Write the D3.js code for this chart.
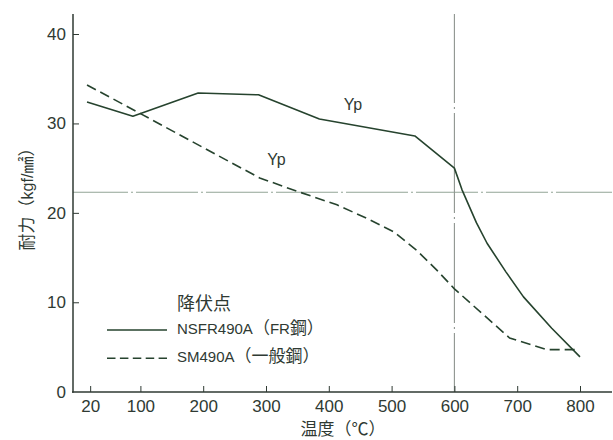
<!DOCTYPE html>
<html>
<head>
<meta charset="utf-8">
<script src="https://cdn.jsdelivr.net/npm/d3@7"></script>
<style>
  html, body { margin: 0; padding: 0; background: #fff; }
  svg { display: block; }
</style>
</head>
<body>
<svg id="chart" width="613" height="440"></svg>
<script>
// Yield point (kgf/mm²) versus temperature (°C) for two structural steels
const frTemps  = [15, 88, 192, 288, 385, 537, 600, 612, 635, 652, 682, 710, 755, 800];
const frYield  = [32.4, 30.8, 33.4, 33.2, 30.5, 28.6, 25.0, 22.6, 18.9, 16.6, 13.4, 10.6, 7.1, 3.9];
const smTemps  = [15, 100, 200, 290, 350, 413, 460, 503, 540, 572, 600, 688, 747, 795];
const smYield  = [34.3, 31.1, 27.3, 23.9, 22.4, 20.9, 19.4, 17.9, 15.8, 13.6, 11.5, 6.0, 4.7, 4.7];

const xTicks = [20, 100, 200, 300, 400, 500, 600, 700, 800];
const yTicks = [0, 10, 20, 30, 40];

// Reference levels: 600 °C and the room-temperature design strength
const refTemp  = 600;
const refYield = 22.3;

const legendTitle = "降伏点";
const seriesNames = ["NSFR490A（FR鋼）", "SM490A（一般鋼）"];
const curveLabelText = ["Yp", "Yp"];
const curveLabelTemp = [424, 302];
const curveLabelYield = [31.5, 25.4];

const xTitle = "温度（℃）";
const yTitle = "耐力（kgf/㎟）";

// ---------------------------------------------------------------
const INK = "#2f3a33";
const CURVE = "#26432e";
const LATIN = "'Liberation Sans', Arial, sans-serif";
const CJK = "'Noto Sans CJK JP', 'Noto Sans CJK SC', sans-serif";

const svg = d3.select("#chart");

const axisX0 = 73, axisX1 = 612, axisY = 392, axisTop = 14;

const x = d3.scaleLinear().domain([0, 800]).range([77.6, 580]);
const y = d3.scaleLinear().domain([0, 40]).range([391.7, 34]);

// mixed Latin / CJK text: CJK runs get the CJK face at a larger size
const cjkRe = /[\u2100-\u214f\u3000-\u30ff\u3300-\u33ff\u4e00-\u9fff\uff00-\uffef]/;
function runs(str) {
  const out = [];
  for (const ch of str) {
    const c = cjkRe.test(ch);
    if (out.length && out[out.length - 1].cjk === c) out[out.length - 1].s += ch;
    else out.push({ s: ch, cjk: c });
  }
  return out;
}
function mixedText(sel, str, latinSize, cjkSize) {
  sel.selectAll("tspan").data(runs(str)).join("tspan")
    .attr("font-family", d => d.cjk ? CJK : LATIN)
    .attr("font-size", d => d.cjk ? cjkSize : latinSize)
    .text(d => d.s);
  return sel;
}

// reference lines (dash-dot)
svg.append("line")
  .attr("x1", axisX0).attr("x2", axisX1)
  .attr("y1", y(refYield)).attr("y2", y(refYield))
  .attr("stroke", "#93a596").attr("stroke-width", 1.1)
  .attr("stroke-dasharray", "62,3,2,3").attr("stroke-dashoffset", 7);

svg.append("line")
  .attr("x1", x(refTemp)).attr("x2", x(refTemp))
  .attr("y1", axisTop).attr("y2", axisY)
  .attr("stroke", "#8e948f").attr("stroke-width", 1.1)
  .attr("stroke-dasharray", "100,4,2,4").attr("stroke-dashoffset", 11);

// axes
const gx = svg.append("g").attr("transform", `translate(0,${axisY})`)
  .call(d3.axisBottom(x).tickValues(xTicks).tickSizeInner(-6).tickSizeOuter(0).tickPadding(8));
const gy = svg.append("g").attr("transform", `translate(${axisX0},0)`)
  .call(d3.axisLeft(y).tickValues(yTicks).tickSizeInner(-6).tickSizeOuter(0).tickPadding(7));
[gx, gy].forEach(g => {
  g.select(".domain").remove();
  g.selectAll(".tick line").attr("stroke", INK).attr("stroke-width", 1);
  g.selectAll(".tick text").attr("fill", INK)
    .attr("font-family", LATIN).attr("font-size", 17);
});
gy.selectAll(".tick").filter(d => d === 0).select("line").remove();

svg.append("line")
  .attr("x1", axisX0).attr("x2", axisX0)
  .attr("y1", axisTop).attr("y2", axisY + 0.75)
  .attr("stroke", INK).attr("stroke-width", 1.5);
svg.append("line")
  .attr("x1", axisX0 - 1).attr("x2", axisX1)
  .attr("y1", axisY).attr("y2", axisY)
  .attr("stroke", INK).attr("stroke-width", 1.5);

// axis titles
mixedText(svg.append("text")
  .attr("x", 343).attr("y", 435)
  .attr("text-anchor", "middle").attr("fill", INK), xTitle, 14, 17);

mixedText(svg.append("text")
  .attr("transform", "translate(33,195) rotate(-90)")
  .attr("text-anchor", "middle").attr("fill", INK), yTitle, 16, 17);

// curves
const line = d3.line().x(d => x(d[0])).y(d => y(d[1]));
const frData = d3.zip(frTemps, frYield);
const smData = d3.zip(smTemps, smYield);

svg.append("path").datum(frData).attr("d", line)
  .attr("fill", "none").attr("stroke", CURVE).attr("stroke-width", 1.6)
  .attr("stroke-linejoin", "round");
svg.append("path").datum(smData).attr("d", line)
  .attr("fill", "none").attr("stroke", CURVE).attr("stroke-width", 1.6)
  .attr("stroke-dasharray", "10,5");

// curve labels
svg.selectAll("text.yp").data(d3.range(curveLabelText.length)).join("text")
  .attr("class", "yp")
  .attr("x", i => x(curveLabelTemp[i])).attr("y", i => y(curveLabelYield[i]))
  .attr("fill", INK).attr("font-family", LATIN).attr("font-size", 16)
  .text(i => curveLabelText[i]);

// legend
const lg = svg.append("g");
lg.append("text").attr("x", 177).attr("y", 310)
  .attr("fill", INK).attr("font-family", CJK).attr("font-size", 18)
  .text(legendTitle);
const dashes = [null, "8.5,4.4"];
seriesNames.forEach((name, i) => {
  const yy = 330 + i * 28.3;
  lg.append("line").attr("x1", 107).attr("x2", 167).attr("y1", yy).attr("y2", yy)
    .attr("stroke", CURVE).attr("stroke-width", 1.5)
    .attr("stroke-dasharray", dashes[i]);
  mixedText(lg.append("text").attr("x", 177).attr("y", yy + 3.5 + i * 0.4)
    .attr("fill", INK), name, 15, 17);
});
</script>
</body>
</html>
